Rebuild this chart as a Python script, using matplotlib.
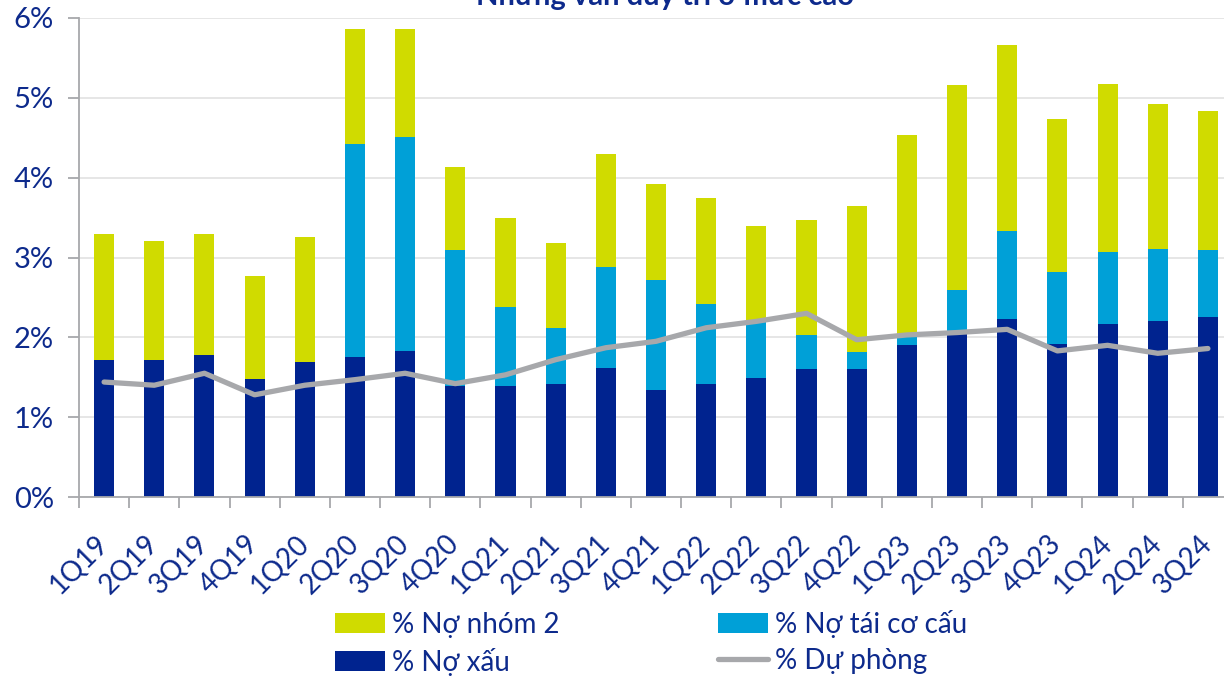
import matplotlib
matplotlib.use("Agg")
import matplotlib.pyplot as plt
import numpy as np
from matplotlib.ticker import FuncFormatter, FixedLocator

quarters = ['1Q19', '2Q19', '3Q19', '4Q19', '1Q20', '2Q20', '3Q20', '4Q20',
            '1Q21', '2Q21', '3Q21', '4Q21', '1Q22', '2Q22', '3Q22', '4Q22',
            '1Q23', '2Q23', '3Q23', '4Q23', '1Q24', '2Q24', '3Q24']
# % of loans
no_xau = [1.72, 1.72, 1.78, 1.48, 1.69, 1.75, 1.83, 1.39, 1.39, 1.41, 1.61, 1.34,
          1.42, 1.49, 1.60, 1.60, 1.91, 2.06, 2.23, 1.92, 2.17, 2.21, 2.25]
no_tai_co_cau = [0, 0, 0, 0, 0, 2.67, 2.68, 1.70, 0.99, 0.71, 1.27, 1.38,
                 1.00, 0.71, 0.43, 0.22, 0.09, 0.53, 1.10, 0.90, 0.90, 0.90, 0.84]
no_nhom_2 = [1.57, 1.49, 1.51, 1.29, 1.57, 1.44, 1.35, 1.04, 1.11, 1.06, 1.42, 1.20,
             1.33, 1.20, 1.44, 1.83, 2.54, 2.57, 2.33, 1.91, 2.10, 1.81, 1.74]
du_phong = [1.44, 1.40, 1.55, 1.28, 1.40, 1.47, 1.55, 1.42, 1.53, 1.72, 1.87, 1.95,
            2.12, 2.20, 2.30, 1.97, 2.03, 2.06, 2.10, 1.83, 1.90, 1.80, 1.86]

navy = '#00238F'
cyan = '#00A0D7'
lime = '#D0DB00'
grey = '#A7A8AB'
txt = '#0D2A8C'

plt.rcParams['font.family'] = ['Lato', 'DejaVu Sans']

fig = plt.figure(figsize=(12.24, 6.77), dpi=100)
ax = fig.add_axes([79/1224, 180/677, 1154/1224, 479/677])

x = np.arange(len(quarters))
xau = np.array(no_xau)
tcc = np.array(no_tai_co_cau)
n2 = np.array(no_nhom_2)
w = 0.4
b1 = ax.bar(x, xau, w, color=navy, zorder=2)
b2 = ax.bar(x, tcc, w, bottom=xau, color=cyan, zorder=2)
b3 = ax.bar(x, n2, w, bottom=xau + tcc, color=lime, zorder=2)
ln, = ax.plot(x, du_phong, color=grey, lw=3.8, solid_capstyle='round',
              solid_joinstyle='round', zorder=3)

ax.set_xlim(-0.5, len(quarters) - 0.5)
ax.set_ylim(0, 6)
ax.set_yticks(range(7))
ax.yaxis.set_major_formatter(FuncFormatter(lambda v, p: f'{v:.0f}%'))
ax.grid(axis='y', color='#E2E2E2', lw=1.2, zorder=0)

ax.set_xticks(x)
ax.set_xticklabels(quarters, rotation=45, ha='right', va='center',
                   rotation_mode='anchor')
ax.xaxis.set_minor_locator(FixedLocator(np.arange(-0.5, len(quarters), 1)))
ax.tick_params(axis='x', which='major', length=0, pad=31, labelsize=20, labelcolor=txt)
ax.tick_params(axis='x', which='minor', length=8, width=1.3, color='#A7A8AB')
ax.tick_params(axis='y', length=8, width=1.3, color='#A7A8AB', labelsize=21,
               labelcolor=txt, pad=10)
for s in ['top', 'right']:
    ax.spines[s].set_visible(False)
for s in ['left', 'bottom']:
    ax.spines[s].set_color('#A7A8AB')
    ax.spines[s].set_linewidth(1.3)

fig.text(665/1224, 1 - 5/677, 'Nhưng vẫn duy trì ở mức cao', ha='center',
         va='baseline', fontsize=21, fontweight='bold', color=txt)

leg = fig.legend([b3, b1, b2, ln],
                 ['% Nợ nhóm 2', '% Nợ xấu', '% Nợ tái cơ cấu', '% Dự phòng'],
                 ncol=2, loc='upper left', bbox_to_anchor=(335/1224, 1 - 610/677),
                 frameon=False, fontsize=20, handlelength=1.8, handleheight=0.72,
                 handletextpad=0.25, columnspacing=5.7, labelspacing=0.36,
                 borderaxespad=0, borderpad=0)
for t in leg.get_texts():
    t.set_color(txt)

fig.savefig('out.png', dpi=100)
